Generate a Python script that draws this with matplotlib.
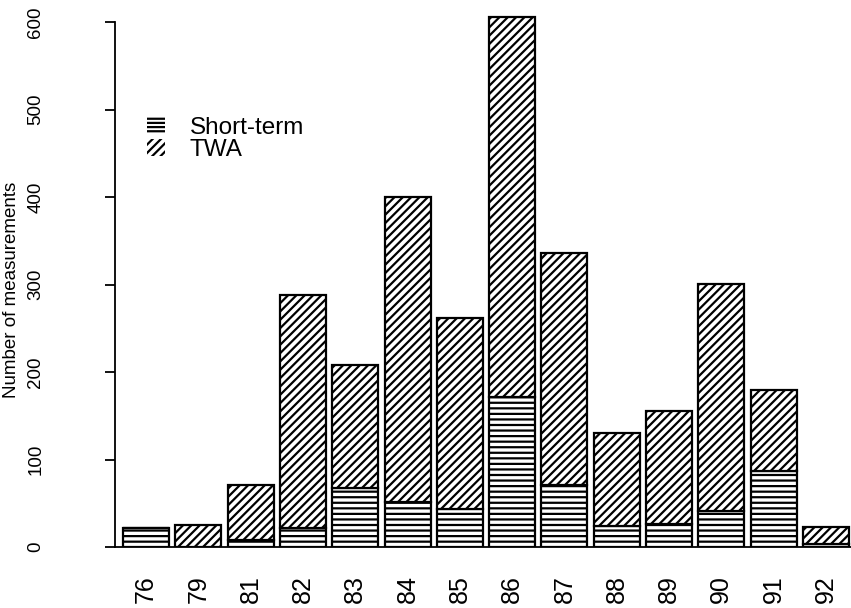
import matplotlib
matplotlib.use("Agg")
import matplotlib.pyplot as plt
from matplotlib.patches import Patch
import numpy as np

plt.rcParams['font.family'] = ['Liberation Sans', 'DejaVu Sans']
plt.rcParams['hatch.linewidth'] = 1.6

years = ["76", "79", "81", "82", "83", "84", "85", "86", "87", "88", "89", "90", "91", "92"]
short_term = [22, 0, 8, 22, 68, 52, 43, 171, 71, 24, 26, 41, 87, 3]
total = [22, 25, 71, 288, 208, 400, 262, 606, 336, 130, 155, 301, 180, 23]
twa = [t - s for t, s in zip(total, short_term)]

W, H = 851, 608
fig = plt.figure(figsize=(W / 100, H / 100), dpi=100)

# axes in pixel coordinates
left_px, right_px = 115, 851
y0_px = 547
px_per_unit = 0.875
ytop = 612
top_px = y0_px - ytop * px_per_unit
ax = fig.add_axes([left_px / W, 1 - y0_px / H, (right_px - left_px) / W, (y0_px - top_px) / H])

step = 52.3
c0 = 146
x = np.arange(len(years))
ax.set_xlim((left_px - c0) / step, (right_px - c0) / step)
ax.set_ylim(0, ytop)

bw = 46 / step
ax.bar(x, short_term, width=bw, color='white', edgecolor='black', hatch='---', linewidth=1.6)
ax.bar(x, twa, bottom=short_term, width=bw, color='white', edgecolor='black', hatch='////', linewidth=1.6)

for s in ['top', 'right']:
    ax.spines[s].set_visible(False)
ax.spines['left'].set_bounds(0, 600)
ax.spines['left'].set_linewidth(1.3)
ax.spines['bottom'].set_linewidth(1.3)

ax.set_yticks([0, 100, 200, 300, 400, 500, 600])
ax.set_yticklabels(["0", "100", "200", "300", "400", "500", "600"], rotation=90, va='center', fontsize=13.5)
ax.tick_params(axis='y', length=7, width=1.3, pad=44)

ax.set_xticks(x)
ax.set_xticklabels(years, rotation=90, fontsize=18)
ax.tick_params(axis='x', length=0, pad=20)

fig.text(12 / W, 1 - 290 / H, "Number of measurements", rotation=90, va='center', ha='center', fontsize=13.5)

handles = [Patch(facecolor='white', edgecolor='black', hatch='----', linewidth=0, label='Short-term'),
           Patch(facecolor='white', edgecolor='black', hatch='////', linewidth=0, label='TWA')]
fig.legend(handles=handles, loc='upper left', bbox_to_anchor=(147 / W, 1 - 117 / H), frameon=False,
           fontsize=17.5, handlelength=0.75, handleheight=0.7, handletextpad=1.0, labelspacing=0.0,
           borderpad=0, borderaxespad=0)

fig.savefig("out.png", dpi=100)
